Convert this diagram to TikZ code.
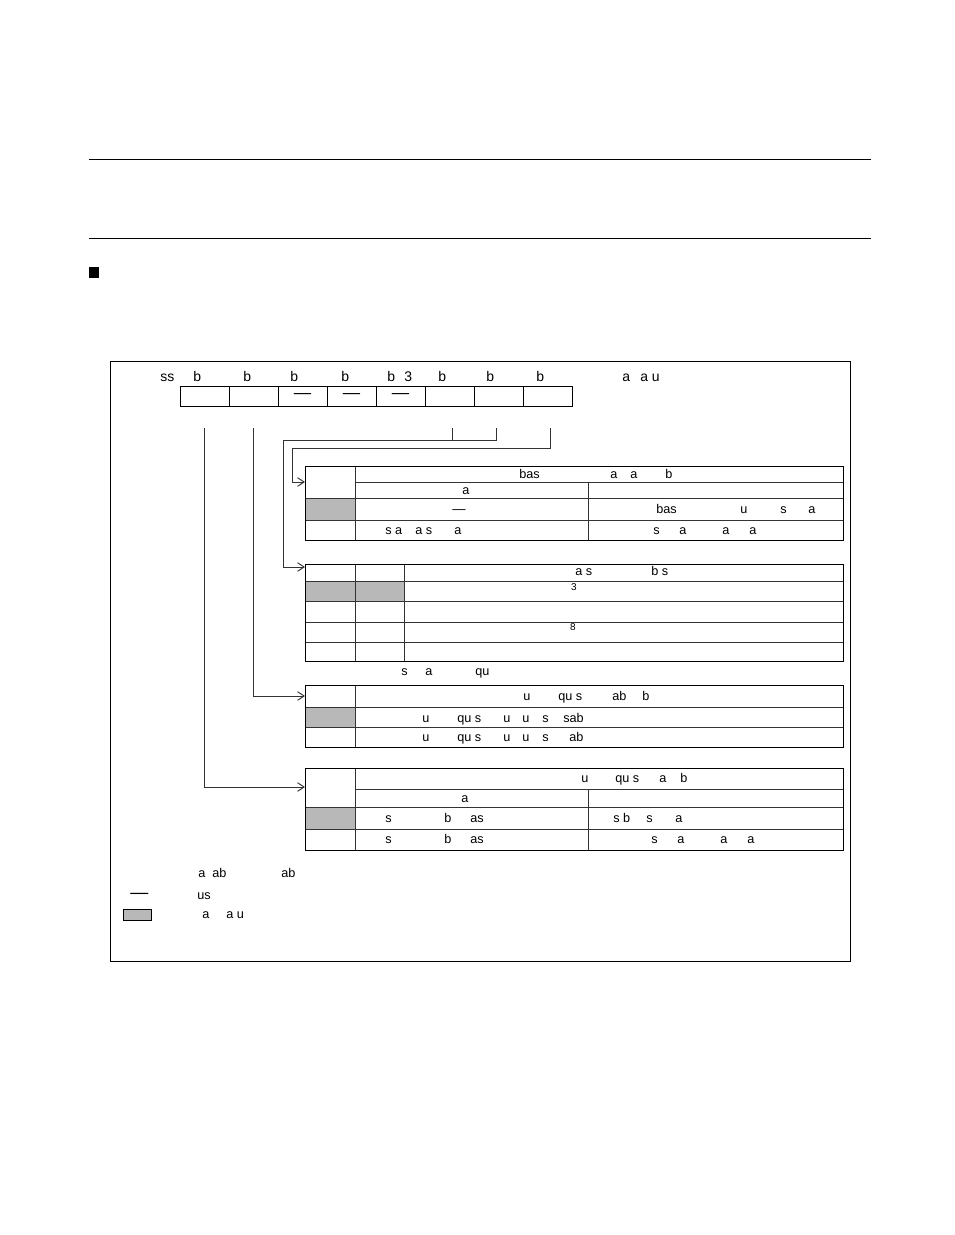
\documentclass[tikz,border=0pt]{standalone}
\usepackage{fontspec}
\setmainfont{Liberation Sans}
\usetikzlibrary{positioning,calc,arrows.meta}
\newlength\pxlen
\setlength\pxlen{0.75pt}
\newcommand{\fr}[2]{\makebox[#1\pxlen][l]{#2}}

\begin{document}
\begin{tikzpicture}[x=0.75pt,y=-0.75pt,
			bitcell/.style={rectangle, draw, line width=0.7pt, minimum width=49\pxlen, minimum height=20\pxlen, inner sep=0pt, outer sep=0pt, font=\fontsize{13}{13}\selectfont},
			txt/.style={anchor=base west, inner sep=0pt, font=\fontsize{9.5}{10}\selectfont},
			headtxt/.style={txt, font=\fontsize{10.5}{11}\selectfont},
			smalltxt/.style={anchor=base, inner sep=0pt, font=\fontsize{7.5}{8}\selectfont},
			tabline/.style={line width=0.55pt, draw=black!80},
			tabframe/.style={line width=0.7pt, draw=black},
			shaded/.style={fill=black!28},
			link/.style={line width=0.7pt, draw=black!80, -{Straight Barb[length=5pt,width=6.5pt]}},
			]
			\useasboundingbox (0,0) rectangle (954,1235);
			%Rules
			\draw[line width=0.75pt] (89,159) -- (871,159);
			\draw[line width=0.75pt] (89,238) -- (871,238);
			\fill (89,267) rectangle (99,278);
			\draw[line width=0.7pt] (110,361) rectangle (850,961);

			%Bits
			\node[headtxt] (bitlabels) at (160,381) {\fr{33}{ss}\fr{50}{b}\fr{47}{b}\fr{51}{b}\fr{46}{b}\fr{51}{\fr{17}{b}3}\fr{48}{b}\fr{50}{b}b};
			\node[headtxt] (initval) at (622,381) {\fr{18}{a}a u};
			\node[bitcell] (bit7) at (204.5,396) {};
			\node[bitcell] (bit6) [right=0pt of bit7] {};
			\node[bitcell] (bit5) [right=0pt of bit6] {—};
			\node[bitcell] (bit4) [right=0pt of bit5] {—};
			\node[bitcell] (bit3) [right=0pt of bit4] {—};
			\node[bitcell] (bit2) [right=0pt of bit3] {};
			\node[bitcell] (bit1) [right=0pt of bit2] {};
			\node[bitcell] (bit0) [right=0pt of bit1] {};

			%Table A
			\fill[shaded] (305,498) rectangle (355,520);
			\draw[tabline] (355,482) -- (843,482);
			\draw[tabline] (305,498) -- (843,498);
			\draw[tabline] (305,520) -- (843,520);
			\draw[tabline] (355,466) -- (355,540);
			\draw[tabline] (588,482) -- (588,540);
			\draw[tabframe] (305,466) rectangle (843,540);
			\coordinate (inA) at (305,482);
			\node[txt] (tabAhead) at (519,478) {\fr{91}{bas}\fr{20}{a}\fr{35}{a}b};
			\node[txt] (tabAsub) at (462,494) {a};
			\node[anchor=base, inner sep=0pt, font=\fontsize{10}{11}\selectfont] (tabAdash) at (459,513) {—};
			\node[txt] (tabAoneR) at (656,513) {\fr{84}{bas}\fr{40}{u}\fr{28}{s}a};
			\node[txt] (tabAzeroL) at (385,534) {\fr{30}{s a}\fr{39}{a s}a};
			\node[txt] (tabAzeroR) at (653,534) {\fr{26}{s}\fr{43}{a}\fr{27}{a}a};

			%Table B
			\fill[shaded] (305,581) rectangle (404,601);
			\draw[tabline] (305,581) -- (843,581);
			\draw[tabline] (305,601) -- (843,601);
			\draw[tabline] (305,622) -- (843,622);
			\draw[tabline] (305,642) -- (843,642);
			\draw[tabline] (355,564) -- (355,661);
			\draw[tabline] (404,564) -- (404,661);
			\draw[tabframe] (305,564) rectangle (843,661);
			\coordinate (inB) at (305,567);
			\node[txt] (tabBhead) at (575,575) {\fr{76}{a s}b s};
			\node[smalltxt] (tabBthree) at (574,590) {3};
			\node[smalltxt] (tabBeight) at (573,630) {8};
			\node[txt] (tabBnote) at (401,675) {\fr{24}{s}\fr{50}{a}qu};

			%Table C
			\fill[shaded] (305,707) rectangle (355,727);
			\draw[tabline] (305,707) -- (843,707);
			\draw[tabline] (305,727) -- (843,727);
			\draw[tabline] (355,685) -- (355,747);
			\draw[tabframe] (305,685) rectangle (843,747);
			\coordinate (inC) at (305,696);
			\node[txt] (tabChead) at (523,700) {\fr{35}{u}\fr{54}{qu s}\fr{30}{ab}b};
			\node[txt] (tabCone) at (422,722) {\fr{35}{u}\fr{46}{qu s}\fr{19}{u}\fr{20}{u}\fr{21}{s}sab};
			\node[txt] (tabCzero) at (422,741) {\fr{35}{u}\fr{46}{qu s}\fr{19}{u}\fr{20}{u}\fr{27}{s}ab};

			%Table D
			\fill[shaded] (305,807) rectangle (355,829);
			\draw[tabline] (355,789) -- (843,789);
			\draw[tabline] (305,807) -- (843,807);
			\draw[tabline] (305,829) -- (843,829);
			\draw[tabline] (355,768) -- (355,850);
			\draw[tabline] (588,789) -- (588,850);
			\draw[tabframe] (305,768) rectangle (843,850);
			\coordinate (inD) at (305,787);
			\node[txt] (tabDhead) at (581,782) {\fr{34}{u}\fr{44}{qu s}\fr{21}{a}b};
			\node[txt] (tabDsub) at (461,802) {a};
			\node[txt] (tabDoneL) at (385,822) {\fr{59}{s}\fr{26}{b}as};
			\node[txt] (tabDoneR) at (613,822) {\fr{33}{s b}\fr{29}{s}a};
			\node[txt] (tabDzeroL) at (385,843) {\fr{59}{s}\fr{26}{b}as};
			\node[txt] (tabDzeroR) at (651,843) {\fr{26}{s}\fr{43}{a}\fr{27}{a}a};

			%Connectors
			\draw[link] ($(bit7.south)+(0,22)$) |- (inD);
			\draw[link] ($(bit6.south)+(0,22)$) |- (inC);
			\draw[link, -] ($(bit2.south)+(3,22)$) -- ($(bit2.south)+(3,34)$);
			\draw[link] ($(bit1.south)+(-2,22)$) |- (283,440) |- (inB);
			\draw[link] ($(bit0.south)+(3,22)$) |- (292,448) |- (inA);

			%Legend
			\node[txt] (legrw) at (198,877) {\fr{14}{a}\fr{69}{ab}ab};
			\node[anchor=base west, inner sep=0pt, font=\fontsize{13.5}{14}\selectfont] (legdash) at (130,898) {—};
			\node[txt] (legunused) at (197,899) {us};
			\draw[line width=0.6pt, fill=black!28] (123,909) rectangle (151,920);
			\node[txt] (leginit) at (202,918) {\fr{24}{a}a u};
		\end{tikzpicture}
\end{document}
